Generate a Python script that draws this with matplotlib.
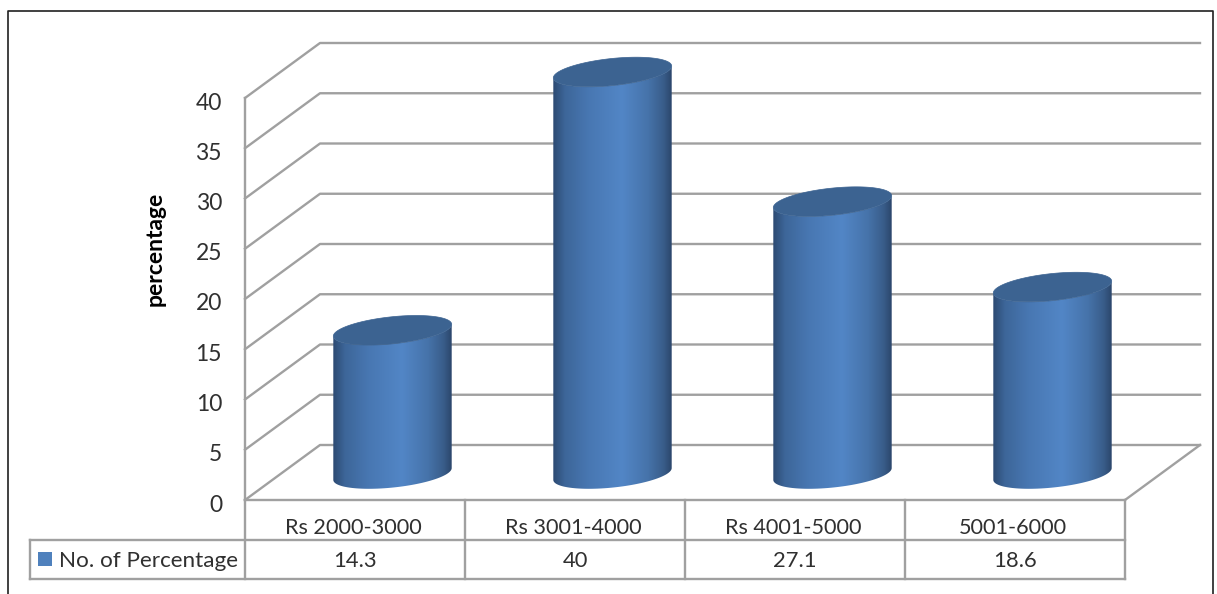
import numpy as np
import matplotlib
matplotlib.use("Agg")
import matplotlib.pyplot as plt
from matplotlib.colors import LinearSegmentedColormap
from matplotlib.patches import Polygon, Rectangle

categories = ["Rs 2000-3000", "Rs 3001-4000", "Rs 4001-5000", "5001-6000"]
values = [14.3, 40, 27.1, 18.6]
value_labels = ["14.3", "40", "27.1", "18.6"]
series_name = "No. of Percentage"
y_ticks = [0, 5, 10, 15, 20, 25, 30, 35, 40]
y_label = "percentage"

W, H = 1217, 594
PX_X = 220.0    # pixels per category
PX_Y = 10.05    # pixels per value unit
X0, Y0 = 245, 500
plt.rcParams["font.family"] = ["Lato", "DejaVu Sans"]

fig = plt.figure(figsize=(W / 100, H / 100), dpi=100, facecolor="white")
ax = fig.add_axes([0, 0, 1, 1])
ax.set_xlim(-X0 / PX_X, (W - X0) / PX_X)
ax.set_ylim((Y0 - H) / PX_Y, Y0 / PX_Y)
ax.axis("off")

GRID = "#a0a0a0"
TXT = "#303030"
dx = 75 / PX_X
dy = 55 / PX_Y
n = len(categories)

# outer frame
ax.plot([-237 / PX_X, -237 / PX_X, 968 / PX_X, 968 / PX_X],
        [(Y0 - H) / PX_Y, 489 / PX_Y, 489 / PX_Y, (Y0 - H) / PX_Y],
        color="#202020", lw=1.2, zorder=1)

# 3D walls' gridlines
for t in y_ticks:
    ax.plot([0, dx, n + dx], [t, t + dy, t + dy], color=GRID, lw=1.7, zorder=2)
    ax.text(-23 / PX_X, t - 5 / PX_Y, str(t), ha="right", va="center", fontsize=16.5, color=TXT)
ax.plot([0, 0], [0, 40], color=GRID, lw=1.7, zorder=2)
ax.plot([n, n + dx], [0, dy], color=GRID, lw=1.7, zorder=2)

ax.text(-90 / PX_X, 25, y_label, rotation=90, ha="center", va="center",
        fontsize=16.5, fontweight="bold", color="black")

# table
row1, row2 = -40 / PX_Y, -79 / PX_Y
left = -215 / PX_X
ax.plot([0, n], [0, 0], color=GRID, lw=1.7, zorder=2)
ax.plot([left, n], [row1, row1], color=GRID, lw=1.7, zorder=2)
ax.plot([left, n], [row2, row2], color=GRID, lw=1.7, zorder=2)
ax.plot([left, left], [row1, row2], color=GRID, lw=1.7, zorder=2)
for i in range(n + 1):
    ax.plot([i, i], [0, row2], color=GRID, lw=1.7, zorder=2)
for i, (c, v) in enumerate(zip(categories, value_labels)):
    ax.text(i + 0.5 - 2 / PX_X, -28 / PX_Y, c, ha="center", va="center", fontsize=15.6, color=TXT)
    ax.text(i + 0.5, (row1 + row2) / 2 - 0.1, v, ha="center", va="center", fontsize=15.8, color=TXT)
ax.add_patch(Rectangle((-207 / PX_X, row1 - 26 / PX_Y), 14 / PX_X, 14 / PX_Y,
                       facecolor="#4f81bd", edgecolor="none", zorder=3))
ax.text(-186 / PX_X, (row1 + row2) / 2 - 0.1, series_name, ha="left", va="center",
        fontsize=16.2, color=TXT)

# cylinders
cmap = LinearSegmentedColormap.from_list("cyl", [
    (0.0, "#2c4a72"), (0.1, "#3d6699"), (0.3, "#4877b2"), (0.58, "#5286c6"),
    (0.8, "#4673aa"), (0.93, "#395d8a"), (1.0, "#2b466b")])
grad = np.linspace(0, 1, 256)[None, :]
A, B, TILT = 59.5, 13.5, np.radians(6)
BASE = 26 / PX_Y      # base ellipse centre rises above the front edge
OFFS = 147.5 / PX_X   # cylinder centre from the category's left edge


def ellipse(cx, cy, t):
    ex = A * np.cos(t) * np.cos(TILT) - B * np.sin(t) * np.sin(TILT)
    ey = A * np.cos(t) * np.sin(TILT) + B * np.sin(t) * np.cos(TILT)
    return cx + ex / PX_X, cy + ey / PX_Y


for i, v in enumerate(values):
    cx = i + OFFS
    t_r = np.arctan2(-B * np.sin(TILT), A * np.cos(TILT))
    t_bot = np.linspace(t_r, t_r - np.pi, 80)
    xb, yb = ellipse(cx, BASE, t_bot)
    t_top = np.linspace(t_r - np.pi, t_r + np.pi, 120)
    xt, yt = ellipse(cx, BASE + v, t_top)
    ts = np.linspace(t_r - np.pi, t_r, 80)
    xs, ys = ellipse(cx, BASE + v, ts)
    side = np.column_stack([np.r_[xb, xs], np.r_[yb, ys]])
    im = ax.imshow(grad, cmap=cmap, aspect="auto", zorder=5, interpolation="bilinear",
                   extent=(xb.min(), xb.max(), BASE - 3, BASE + v + 3))
    poly = Polygon(side, closed=True, facecolor="none", edgecolor="none", transform=ax.transData)
    ax.add_patch(poly)
    im.set_clip_path(poly)
    ax.add_patch(Polygon(np.column_stack([xt, yt]), closed=True, facecolor="#3c6391",
                         edgecolor="#3c6391", lw=0.5, zorder=6))

ax.set_xlim(-X0 / PX_X, (W - X0) / PX_X)
ax.set_ylim((Y0 - H) / PX_Y, Y0 / PX_Y)
fig.savefig("out.png", dpi=100)
